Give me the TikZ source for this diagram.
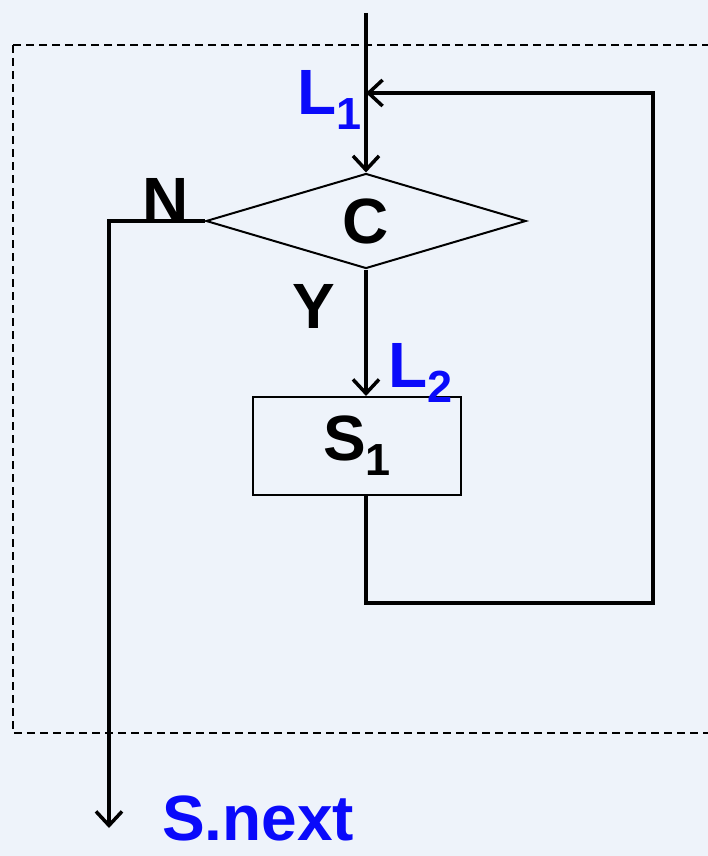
\documentclass[tikz,border=0pt]{standalone}
\usepackage{fontspec}
\setmainfont{Liberation Sans}
\usetikzlibrary{arrows.meta,shapes.geometric}
\definecolor{pagebg}{RGB}{238,243,250}
\definecolor{labblue}{RGB}{10,10,250}
\newcommand{\lowidx}[1]{\raisebox{-15pt}{\fontsize{45}{45}\selectfont #1}}
\tikzset{
  big/.style={font=\fontsize{64}{70}\selectfont\bfseries, inner sep=0pt},
  dia/.style={big, draw, line width=2pt, diamond, aspect=3.37,
    minimum width=320pt, minimum height=95pt},
  blk/.style={big, draw, line width=2pt, rectangle,
    minimum width=208pt, minimum height=98pt},
  lab/.style={big, text=labblue},
  flow/.style={line width=3.5pt, -{Straight Barb[length=14pt,width=26pt,line width=3.5pt]}}
}
\begin{document}
\begin{tikzpicture}[x=1pt,y=-1pt]
  \useasboundingbox (0,0) rectangle (708,856);
  \fill[pagebg] (0,0) rectangle (708,856);
  \draw[line width=1.5pt, dash pattern=on 8pt off 5pt] (13,45) rectangle (720,733);
  \node[dia] (C) at (366,221) {C};
  \node[blk] (S) at (357,446) {S\lowidx{1}};
  \coordinate (in) at (366,13);
  \coordinate (j1) at (366,93);
  \coordinate (rt) at (653,603);
  \coordinate (out) at (109,828);
  \node[lab, anchor=base west] (L1) at (297,115) {L\lowidx{1}};
  \node[lab, anchor=base west] (L2) at (388,387) {L\lowidx{2}};
  \node[big, anchor=base] (N) at (166,222) {N};
  \node[big, anchor=base] (Y) at (314,328) {Y};
  \node[lab, anchor=base west] (nx) at (162,840) {S.next};
  \draw[flow] (in) -- (C.north);
  \draw[flow] (C.south) -- (C.south |- S.north);
  \draw[flow] (C.south |- S.south) |- (rt) |- (j1);
  \draw[flow] (C.west) -| (out);
\end{tikzpicture}
\end{document}
